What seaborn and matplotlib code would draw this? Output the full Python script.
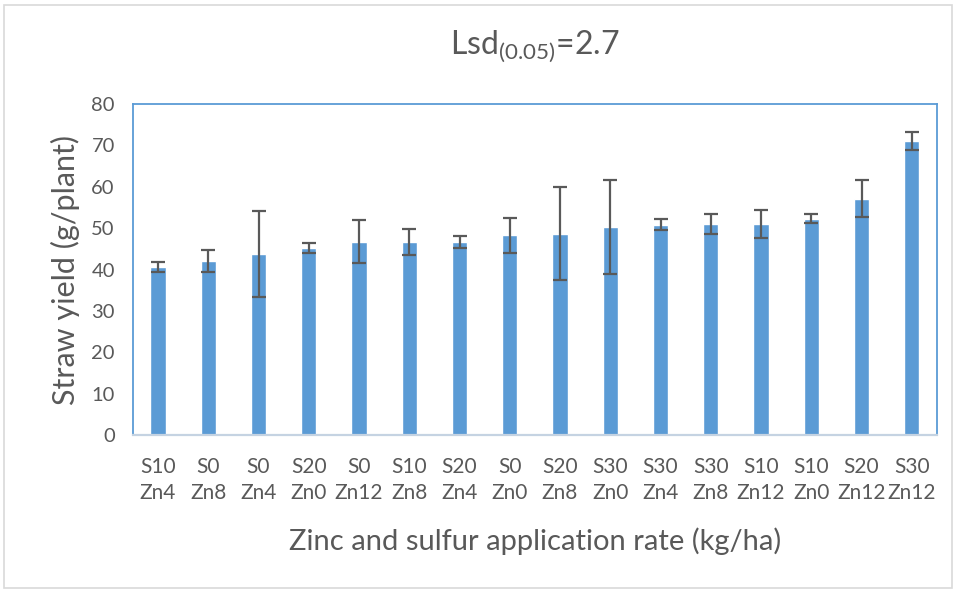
import matplotlib
matplotlib.use("Agg")
import numpy as np
import pandas as pd
import seaborn as sns
import matplotlib.pyplot as plt
from matplotlib.patches import Rectangle

# treatments, sorted by straw yield
treatments = ["S10\nZn4", "S0\nZn8", "S0\nZn4", "S20\nZn0", "S0\nZn12", "S10\nZn8",
              "S20\nZn4", "S0\nZn0", "S20\nZn8", "S30\nZn0", "S30\nZn4", "S30\nZn8",
              "S10\nZn12", "S10\nZn0", "S20\nZn12", "S30\nZn12"]
yield_mean = [40.7, 42.0, 43.8, 45.1, 46.7, 46.7, 46.7, 48.3,
              48.7, 50.3, 50.8, 51.0, 51.0, 52.3, 57.1, 71.0]
yield_err = [1.2, 2.6, 10.4, 1.2, 5.2, 3.2, 1.4, 4.2,
             11.2, 11.4, 1.3, 2.4, 3.3, 1.1, 4.5, 2.2]

df = pd.DataFrame({"treatment": treatments, "straw": yield_mean, "err": yield_err})

sns.set_style("white")
plt.rcParams["font.family"] = ["Lato", "DejaVu Sans"]
plt.rcParams["mathtext.fontset"] = "custom"
plt.rcParams["mathtext.rm"] = "Lato"
plt.rcParams["mathtext.it"] = "Lato"

grey = "#595959"
blue = "#5B9BD5"

fig = plt.figure(figsize=(9.56, 5.9), dpi=100)
ax = fig.add_axes([0.139, 0.2627, 0.841, 0.561])

sns.barplot(data=df, x="treatment", y="straw", color=blue, width=0.3,
            saturation=1, errorbar=None, ax=ax, zorder=2)
ax.errorbar(np.arange(len(df)), df["straw"], yerr=df["err"], fmt="none",
            ecolor=grey, elinewidth=1.6, capsize=5, capthick=1.6, zorder=3)

ax.set_ylim(0, 80)
ax.set_xlim(-0.5, len(df) - 0.5)
ax.set_yticks(range(0, 81, 10))
ax.tick_params(axis="x", length=0, colors=grey, labelsize=15, pad=16)
ax.tick_params(axis="y", length=0, colors=grey, labelsize=14.5, pad=13)
for lbl in ax.get_xticklabels():
    lbl.set_linespacing(1.35)

ax.set_xlabel("Zinc and sulfur application rate (kg/ha)", fontsize=21, color=grey, labelpad=18)
ax.set_ylabel("Straw yield (g/plant)", fontsize=22, color=grey, labelpad=8)
ax.set_title(r"Lsd$_{\mathrm{(0.05)}}$=2.7", fontsize=23, color=grey, pad=36)

for side in ["left", "top", "right"]:
    ax.spines[side].set_color(blue)
    ax.spines[side].set_linewidth(1.3)
ax.spines["bottom"].set_color("#C5D3E2")
ax.spines["bottom"].set_linewidth(1.6)

# outer chart border
fig.patches.append(Rectangle((0.004, 0.003), 0.992, 0.989, transform=fig.transFigure,
                             fill=False, edgecolor="#D9D9D9", linewidth=1.2))

fig.savefig("out.png", dpi=100)
